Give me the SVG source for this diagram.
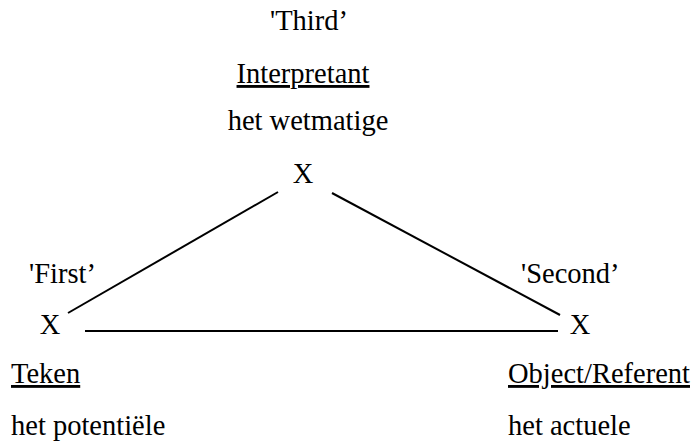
<svg xmlns="http://www.w3.org/2000/svg" width="695" height="442" viewBox="0 0 695 442">
<style>
text{font-family:"Liberation Serif","Times New Roman",serif;font-size:28.5px;fill:#000}
.u{text-decoration:underline}
line{stroke:#000;stroke-width:2}
</style>
<rect width="695" height="442" fill="#fff"/>
<g id="connectors">
<line x1="68" y1="313" x2="278" y2="192"/>
<line x1="332" y1="193" x2="560" y2="315"/>
<line x1="85" y1="331" x2="558" y2="331"/>
</g>
<g id="interpretant">
<text x="309" y="30" text-anchor="middle">'Third’</text>
<text x="303" y="83" text-anchor="middle" class="u">Interpretant</text>
<text x="308" y="130" text-anchor="middle">het wetmatige</text>
<text x="303" y="183" text-anchor="middle">X</text>
</g>
<g id="teken">
<text x="29" y="283">'First’</text>
<text x="50" y="334" text-anchor="middle">X</text>
<text x="11" y="383" class="u">Teken</text>
<text x="11" y="435">het potentiële</text>
</g>
<g id="object">
<text x="521" y="283">'Second’</text>
<text x="580" y="334" text-anchor="middle">X</text>
<text x="508" y="383" class="u">Object/Referent</text>
<text x="508" y="435">het actuele</text>
</g>
</svg>
